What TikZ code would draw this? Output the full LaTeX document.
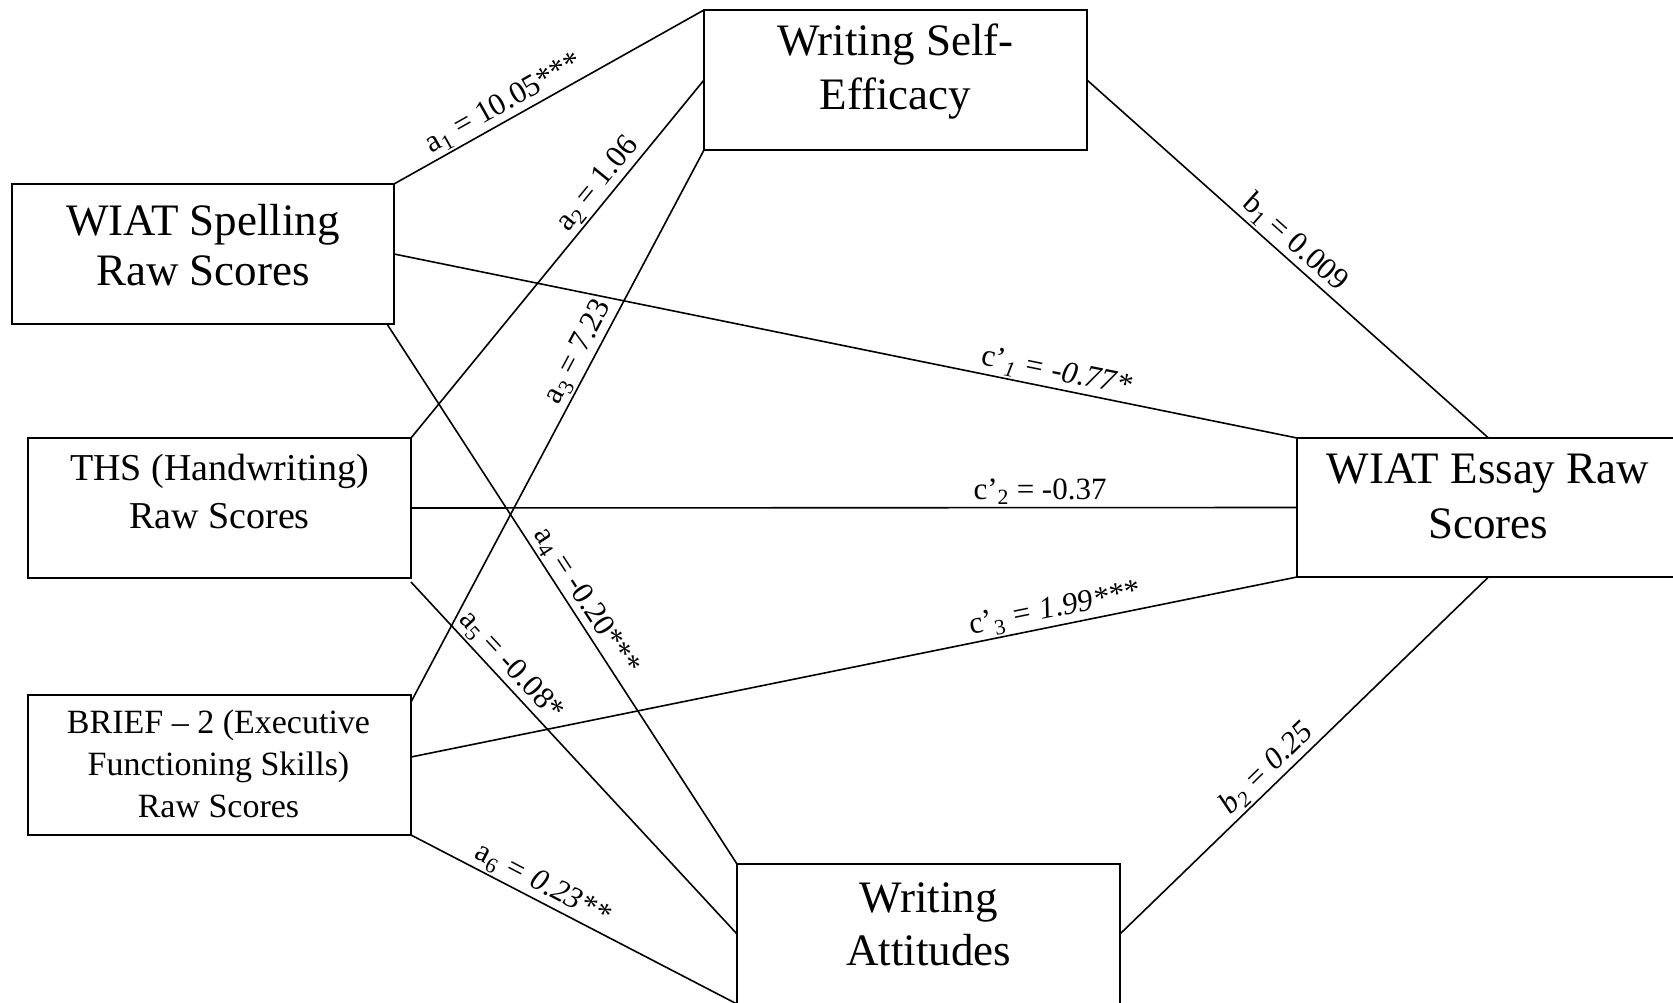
\documentclass[tikz,border=0pt]{standalone}
\usepackage{fontspec}
\setmainfont{Liberation Serif}
\usetikzlibrary{calc}
\begin{document}
\begin{tikzpicture}[x=1pt,y=-1pt,
  box/.style={draw, line width=1.8pt, minimum width=383pt, minimum height=140pt, inner sep=0pt, outer sep=0pt},
  big/.style={font=\fontsize{45}{54}\selectfont, align=center, anchor=base, inner sep=0pt},
  conn/.style={line width=1.6pt},
  lbl/.style={font=\fontsize{31}{34}\selectfont, sloped, above, inner sep=2pt}]
\useasboundingbox (0,0) rectangle (1673,1003);
\fill[white] (0,0) rectangle (1673,1003);
% boxes
\node[box, minimum width=382pt] (spell) at (203,254) {};
\node[box] (wse) at (895.5,80) {};
\node[box] (ths) at (219.5,508) {};
\node[box] (brief) at (219.5,765) {};
\node[box, minimum height=139pt] (essay) at (1488.5,507.5) {};
\node[box] (att) at (928.5,934) {};
% texts (anchor base = baseline of the last line)
\node[big, font=\fontsize{45}{50}\selectfont] (spellt) at (203,285) {WIAT Spelling\\Raw Scores};
\node[big] (wset) at (895.5,110) {Writing Self-\\Efficacy};
\node[big, font=\fontsize{38}{48}\selectfont] (thst) at (219.5,528) {THS (Handwriting)\\Raw Scores};
\node[big, font=\fontsize{34}{42}\selectfont] (brieft) at (218.5,817) {BRIEF – 2 (Executive\\Functioning Skills)\\Raw Scores};
\node[big, font=\fontsize{45}{55}\selectfont] (essayt) at (1488,538) {WIAT Essay Raw\\Scores};
\node[big, font=\fontsize{45}{53}\selectfont] (attt) at (928.5,965) {Writing\\Attitudes};
% connectors
\draw[conn] (spell.north east) -- node[lbl, pos=0.38] (la1) {a\textsubscript{1} = 10.05***} (wse.north west);
\draw[conn] (ths.north east) -- node[lbl, pos=0.68] (la2) {a\textsubscript{2} = 1.06} (wse.west);
\draw[conn] ([yshift=-7pt]brief.north east) -- node[lbl, pos=0.62] (la3) {a\textsubscript{3} = 7.23} (wse.south west);
\draw[conn] ([xshift=-7pt]spell.south east) -- node[lbl, pos=0.53] (la4) {a\textsubscript{4} = -0.20***} (att.north west);
\draw[conn] ([yshift=-4pt]ths.south east) -- node[lbl, pos=0.27] (la5) {a\textsubscript{5} = -0.08*} (att.west);
\draw[conn] (brief.south east) -- node[lbl, pos=0.38] (la6) {a\textsubscript{6} {\itshape = 0.23**}} (att.south west);
\draw[conn] (wse.east) -- node[lbl, pos=0.49] (lb1) {b\textsubscript{1} = 0.009} (essay.north);
\draw[conn] (att.east) -- node[lbl, pos=0.43] (lb2) {\itshape b\textsubscript{2} = 0.25} (essay.south);
\draw[conn] (spell.east) -- node[lbl, pos=0.73] (lc1) {c’\textsubscript{\itshape 1} {\itshape = -0.77*}} (essay.north west);
\draw[conn] (ths.east) -- node[lbl, pos=0.71] (lc2) {c’\textsubscript{2} = -0.37} (essay.west);
\draw[conn] ([yshift=8pt]brief.east) -- node[lbl, pos=0.73] (lc3) {c’\textsubscript{3} {\itshape = 1.99***}} (essay.south west);
\end{tikzpicture}
\end{document}
